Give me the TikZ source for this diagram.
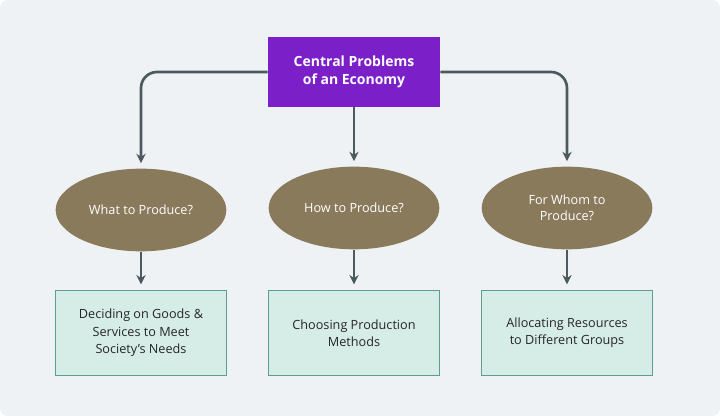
\documentclass[tikz,border=0pt]{standalone}
\usepackage{fontspec}
\setmainfont{Open Sans}
\usetikzlibrary{shapes.geometric,arrows.meta}
\definecolor{bgcol}{HTML}{EEF2F5}
\definecolor{topcol}{HTML}{7B1FC8}
\definecolor{ellcol}{HTML}{8A7A5C}
\definecolor{boxcol}{HTML}{D6ECE7}
\definecolor{boxline}{HTML}{5E9E8E}
\definecolor{arrcol}{HTML}{4B5A5F}
\tikzset{
  topbox/.style={fill=topcol, text=white, font=\bfseries\fontsize{10.5}{13}\selectfont, minimum width=129pt, minimum height=52pt, align=center, inner sep=0pt},
  question/.style={ellipse, fill=ellcol, text=white, font=\fontsize{9.5}{12}\selectfont, minimum width=128pt, minimum height=62pt, align=center, inner sep=0pt},
  answer/.style={draw=boxline, line width=1pt, fill=boxcol, text=black!85, font=\fontsize{9.5}{13}\selectfont, minimum width=128pt, minimum height=64pt, align=center, inner sep=0pt},
  link/.style={draw=arrcol, line width=2pt, -{Stealth[length=7pt,width=7pt]}, rounded corners=12pt}
}
\begin{document}
\begin{tikzpicture}[x=0.75pt,y=0.75pt,yscale=-1,xscale=1]
		%background
		\fill[bgcol, rounded corners=6pt] (0,0) rectangle (720,416);
		\useasboundingbox (0,0) rectangle (720,416);
		
		% Top node
		\node[topbox] (central) at (354,72) {Central Problems\\of an Economy};
		
		% Questions
		\node[question] (what) at (141,210) {What to Produce?};
		\node[question] (how) at (354,208) {How to Produce?};
		\node[question] (whom) at (567,208) {For Whom to\\Produce?};
		
		% Answers
		\node[answer] (goods) at (141,333) {Deciding on Goods \&\\Services to Meet\\Society's Needs};
		\node[answer] (methods) at (354,333) {Choosing Production\\Methods};
		\node[answer] (groups) at (567,333) {Allocating Resources\\to Different Groups};
		
		% Connectors
		\draw[link] (central.west) -| ([yshift=-4pt]what.north);
		\draw[link] (central.south) -- ([yshift=-4pt]how.north);
		\draw[link] (central.east) -| ([yshift=-4pt]whom.north);
		\draw[link] (what.south) -- ([yshift=-4pt]goods.north);
		\draw[link] (how.south) -- ([yshift=-4pt]methods.north);
		\draw[link] (whom.south) -- ([yshift=-4pt]groups.north);
\end{tikzpicture}
\end{document}
